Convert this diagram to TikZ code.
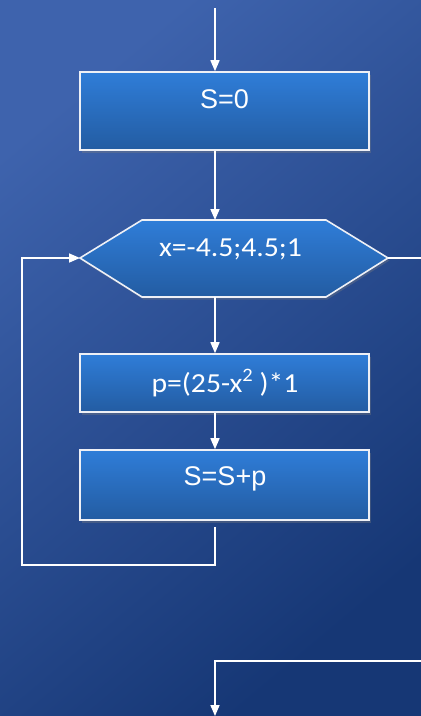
\documentclass[tikz,border=0pt]{standalone}
\usepackage{fontspec}
\setmainfont{Liberation Sans}
\newfontfamily\calfont[FakeStretch=1.08]{Carlito}
\usetikzlibrary{arrows.meta,shadows,calc}
\definecolor{bgA}{HTML}{3E63AD}
\definecolor{bgB}{HTML}{163775}
\definecolor{boxA}{HTML}{2F7DD8}
\definecolor{boxB}{HTML}{235CA2}
\definecolor{edge}{HTML}{EEF0F6}
\tikzset{
  blk/.style={draw=edge, line width=1.6pt, top color=boxA, bottom color=boxB,
    drop shadow={opacity=0.35, shadow xshift=1.5pt, shadow yshift=-2.5pt}},
  conn/.style={draw=white, line width=1.6pt},
  arr/.style={conn, -{Triangle[width=9pt,length=11pt]}},
  txtA/.style={text=white, font=\fontsize{27}{30}\selectfont, anchor=base, inner sep=0pt},
  txtB/.style={text=white, font=\calfont\fontsize{27.5}{30}\selectfont, anchor=base, inner sep=0pt}
}
\begin{document}
\begin{tikzpicture}[x=1pt,y=-1pt]
\useasboundingbox (0,0) rectangle (421,716);
\shade[top color=bgA, bottom color=bgB, shading angle=40] (0,0) rectangle (421,716);
% boxes
\node[blk, minimum width=289pt, minimum height=78pt, inner sep=0pt] (box0) at (224.5,111) {};
\node[txtA] (t0) at (224.5,108.5) {S=0};
\coordinate (hexL) at (80,258);
\coordinate (hexR) at (388,258);
\coordinate (hexT) at (215,220);
\coordinate (hexB) at (215,297);
\path[blk] (hexL) -- (142,220) -- (326,220) -- (hexR) -- (326,297) -- (142,297) -- cycle;
\node[txtB] (tx) at (230.5,256.5) {x=-4.5;4.5;1};
\node[blk, minimum width=289pt, minimum height=58pt, inner sep=0pt] (boxp) at (224.5,383) {};
\node[txtB] (tp) at (225,392) {p=(25-x\raisebox{0.8ex}{\fontsize{19}{20}\selectfont 2} )*1};
\node[blk, minimum width=289pt, minimum height=70pt, inner sep=0pt] (boxs) at (224.5,485) {};
\node[txtA] (ts) at (225,485) {S=S+p};
% connectors
\coordinate (top) at (215,8);
\coordinate (loopA) at (215,565);
\coordinate (loopB) at (22,565);
\coordinate (loopC) at (22,258);
\coordinate (exitR) at (421,258);
\coordinate (inR) at (421,661);
\coordinate (inC) at (215,661);
\coordinate (bot) at (215,716);
\draw[arr] (top) -- (top |- box0.north);
\draw[arr] (hexT |- box0.south) -- (hexT);
\draw[arr] (hexB) -- (hexB |- boxp.north);
\draw[arr] (hexB |- boxp.south) -- (hexB |- boxs.north);
\draw[arr] ($(loopA |- boxs.south)+(0,6)$) -- (loopA) -- (loopB) -- (loopC) -- (hexL);
\draw[conn] (hexR) -- (exitR);
\draw[arr] (inR) -- (inC) -- (bot);
\end{tikzpicture}
\end{document}
